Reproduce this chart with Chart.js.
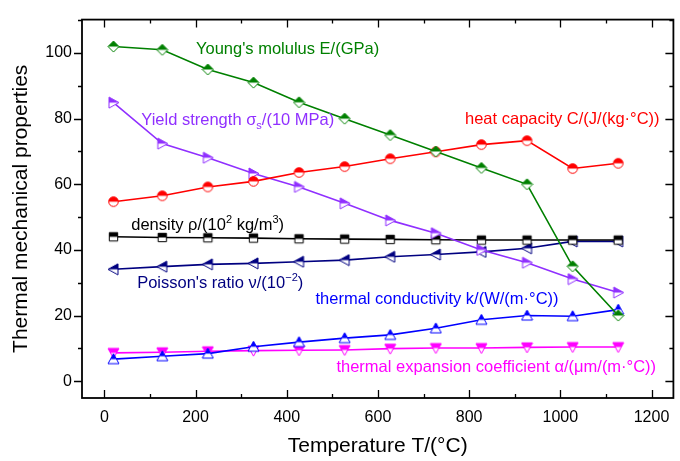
<!DOCTYPE html>
<html>
<head>
<meta charset="utf-8">
<script src="https://cdn.jsdelivr.net/npm/chart.js@4.4.0/dist/chart.umd.min.js"></script>
<style>
  html, body { margin: 0; padding: 0; background: #fff; }
  canvas { display: block; }
</style>
</head>
<body>
<canvas id="grafico" width="680" height="461"></canvas>
<script>
// temperature points (°C)
const temps = [20, 127, 227, 327, 427, 527, 627, 727, 827, 927, 1027, 1127];

// property series, values
const youngs = [102, 101, 95, 91, 85, 80, 75, 70, 65, 60, 35, 20];
const heatCap = [54.7, 56.5, 59.2, 60.9, 63.6, 65.4, 67.8, 69.9, 72.1, 73.3, 64.8, 66.4];
const yieldStr = [84.9, 72.4, 68.1, 63.3, 59.2, 54.2, 49, 45.1, 40, 36.1, 31.1, 27];
const density = [44, 43.8, 43.7, 43.6, 43.4, 43.3, 43.2, 43.1, 43, 43, 43, 43];
const poisson = [34.1, 34.9, 35.6, 35.9, 36.4, 36.9, 37.9, 38.6, 39.4, 40.5, 42.6, 42.6];
const conductivity = [6.7, 7.6, 8.4, 10.5, 11.9, 13.1, 14.1, 16.1, 18.7, 20, 19.8, 21.8];
const expansion = [8.6, 8.8, 9.1, 9.3, 9.4, 9.5, 9.9, 10.1, 10.1, 10.3, 10.4, 10.4];

// tick labels
const xTicks = [0, 200, 400, 600, 800, 1000, 1200];
const yTicks = [0, 20, 40, 60, 80, 100];

const FONT = "'Liberation Sans', Arial, sans-serif";

///////////////////////////////////////////////////////////////

// half filled markers, like the ones Origin draws
function marcador(forma, cor){

    const s = 13, c = s / 2, r = 5.5;
    const cv = document.createElement("canvas");
    cv.width = s; cv.height = s;
    const ctx = cv.getContext("2d");

    function caminho(){
        ctx.beginPath();
        if(forma === "circle"){
            ctx.arc(c, c, r - 0.7, 0, Math.PI * 2);
        } else if(forma === "square"){
            ctx.rect(c - 4.2, c - 4.2, 8.4, 8.4);
        } else if(forma === "diamond"){
            ctx.moveTo(c, c - r); ctx.lineTo(c + r, c); ctx.lineTo(c, c + r); ctx.lineTo(c - r, c);
        } else if(forma === "up"){
            ctx.moveTo(c, c - r); ctx.lineTo(c + r, c + r - 1); ctx.lineTo(c - r, c + r - 1);
        } else if(forma === "down"){
            ctx.moveTo(c - r, c - r + 1); ctx.lineTo(c + r, c - r + 1); ctx.lineTo(c, c + r);
        } else if(forma === "left"){
            ctx.moveTo(c - r, c); ctx.lineTo(c + r - 1, c - r); ctx.lineTo(c + r - 1, c + r);
        } else if(forma === "right"){
            ctx.moveTo(c + r, c); ctx.lineTo(c - r + 1, c - r); ctx.lineTo(c - r + 1, c + r);
        }
        ctx.closePath();
    }

    caminho();
    ctx.fillStyle = "#fff";
    ctx.fill();

    ctx.save();
    ctx.beginPath();
    ctx.rect(0, 0, s, c);
    ctx.clip();
    caminho();
    ctx.fillStyle = cor;
    ctx.fill();
    ctx.restore();

    caminho();
    ctx.strokeStyle = cor;
    ctx.lineWidth = 1;
    ctx.stroke();

    return cv;
}

function serie(valores, cor, forma){
    return {
        data: temps.map((t, i) => ({x: t, y: valores[i]})),
        borderColor: cor,
        backgroundColor: cor,
        borderWidth: 1.6,
        pointStyle: marcador(forma, cor),
        pointRadius: 5,
        tension: 0
    };
}

///////////////////////////////////////////////////////////////

// annotation texts: [x, y, colour, segments]
const rotulos = [
    [201, 99.6, "#008000", [["Young's molulus E/(GPa)"]]],
    [81, 78, "#9030ff", [["Yield strength "], ["σ"], ["s", "sub"], ["/(10 MPa)"]]],
    [791, 78.5, "#ff0000", [["heat capacity C/(J/(kg·°C))"]]],
    [59, 46, "#000000", [["density ρ/(10"], ["2", "sup"], [" kg/m"], ["3", "sup"], [")"]]],
    [72, 28.4, "#000080", [["Poisson's ratio ν/(10"], ["−2", "sup"], [")"]]],
    [463, 23.5, "#0000ff", [["thermal conductivity k/(W/(m·°C))"]]],
    [509, 2.7, "#ff00ff", [["thermal expansion coefficient α/(μm/(m·°C))"]]]
];

const pluginRotulos = {
    id: "rotulos",
    afterDatasetsDraw(chart){
        const ctx = chart.ctx;
        const sx = chart.scales.x, sy = chart.scales.y;
        ctx.save();
        ctx.textBaseline = "alphabetic";
        ctx.textAlign = "left";
        rotulos.forEach(([vx, vy, cor, partes]) => {
            let px = sx.getPixelForValue(vx);
            const py = sy.getPixelForValue(vy);
            ctx.fillStyle = cor;
            partes.forEach(([txt, tipo]) => {
                let dy = 0;
                if(tipo === "sub"){ ctx.font = "11px " + FONT; dy = 4; }
                else if(tipo === "sup"){ ctx.font = "11px " + FONT; dy = -7; }
                else { ctx.font = "16.5px " + FONT; }
                ctx.fillText(txt, px, py + dy);
                px += ctx.measureText(txt).width;
            });
        });
        ctx.restore();
    }
};

// frame with inward ticks on bottom/top/right, outward on the left
const pluginMoldura = {
    id: "moldura",
    afterDraw(chart){
        const ctx = chart.ctx;
        const a = chart.chartArea;
        const sx = chart.scales.x, sy = chart.scales.y;
        ctx.save();
        ctx.strokeStyle = "#000";
        ctx.lineWidth = 1.8;
        ctx.strokeRect(a.left, a.top, a.right - a.left, a.bottom - a.top);

        ctx.lineWidth = 1.3;
        ctx.beginPath();
        for(let v = 0; v <= 1200; v += 100){
            const px = Math.round(sx.getPixelForValue(v)) + 0.5;
            const len = v % 200 === 0 ? 8 : 4;
            ctx.moveTo(px, a.bottom); ctx.lineTo(px, a.bottom - len);
            ctx.moveTo(px, a.top); ctx.lineTo(px, a.top + len);
        }
        for(let v = 0; v <= 110; v += 10){
            const py = Math.round(sy.getPixelForValue(v)) + 0.5;
            const len = v % 20 === 0 ? 8 : 4;
            ctx.moveTo(a.left, py); ctx.lineTo(a.left - len, py);
            ctx.moveTo(a.right, py); ctx.lineTo(a.right - len, py);
        }
        ctx.stroke();
        ctx.restore();
    }
};

///////////////////////////////////////////////////////////////

const ctx = document.getElementById("grafico").getContext("2d");

new Chart(ctx, {

    type: "line",

    data: {
        datasets: [
            serie(youngs, "#008000", "diamond"),
            serie(heatCap, "#ff0000", "circle"),
            serie(yieldStr, "#9030ff", "right"),
            serie(density, "#000000", "square"),
            serie(poisson, "#000080", "left"),
            serie(conductivity, "#0000ff", "up"),
            serie(expansion, "#ff00ff", "down")
        ]
    },

    options: {

        responsive: false,
        animation: false,
        devicePixelRatio: 1,

        layout: {
            padding: {top: 10, right: 0, left: 0, bottom: 0}
        },

        plugins: {
            legend: {display: false},
            tooltip: {enabled: false}
        },

        scales: {

            x: {
                type: "linear",
                min: -49,
                max: 1248,
                grid: {display: false, drawTicks: false},
                border: {display: false},
                afterBuildTicks: s => { s.ticks = xTicks.map(v => ({value: v})); },
                afterFit: s => { s.height = 63; },
                ticks: {
                    color: "#000",
                    padding: 10,
                    maxRotation: 0,
                    callback: v => String(v),
                    font: {family: FONT, size: 16}
                },
                title: {
                    display: true,
                    text: "Temperature T/(°C)",
                    color: "#000",
                    font: {family: FONT, size: 21},
                    padding: {top: 0, bottom: 2}
                }
            },

            y: {
                min: -5.14,
                max: 110.2,
                grid: {display: false, drawTicks: false},
                border: {display: false},
                afterBuildTicks: s => { s.ticks = yTicks.map(v => ({value: v})); },
                afterFit: s => { s.width = 82; },
                ticks: {
                    color: "#000",
                    padding: 10,
                    callback: v => String(v),
                    font: {family: FONT, size: 16}
                },
                title: {
                    display: true,
                    text: "Thermal mechanical properties",
                    color: "#000",
                    font: {family: FONT, size: 21},
                    padding: {top: 9, bottom: 0}
                }
            }

        }

    },

    plugins: [pluginMoldura, pluginRotulos]

});
</script>
</body>
</html>
